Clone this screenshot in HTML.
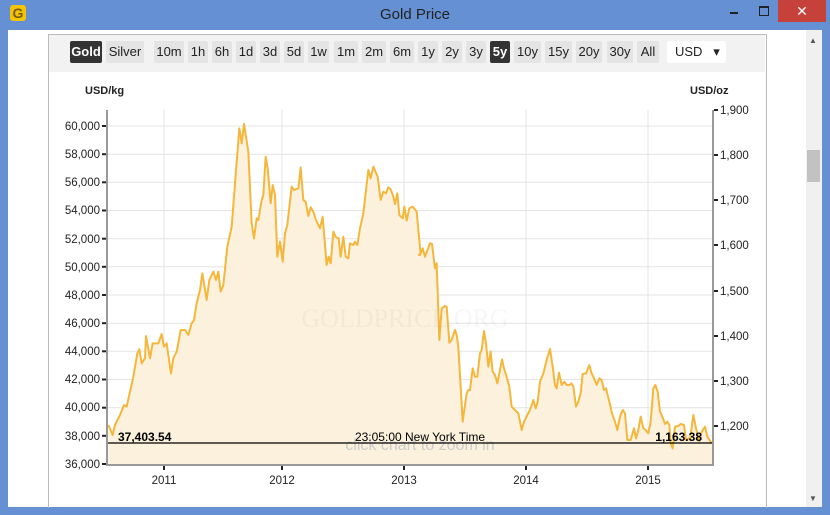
<!DOCTYPE html>
<html><head><meta charset="utf-8"><style>
body{margin:0;width:830px;height:515px;overflow:hidden;background:#6690d4;font-family:"Liberation Sans",sans-serif;position:relative}
.win{position:absolute;left:8px;top:30px;width:814px;height:477px;background:#fff}
.t{position:absolute;top:6px;left:0;width:830px;text-align:center;font-size:15px;color:#222}
.btn{position:absolute;top:41px;height:22px;line-height:22px;font-size:13px;text-align:center;background:#e4e4e4;color:#222;border-radius:2px}
.sel{background:#333;color:#fff;font-weight:bold}
</style></head><body>
<div class="t">Gold Price</div>
<div style="position:absolute;left:10px;top:5px;width:16px;height:16px;background:#f4c400;border-radius:3px;color:#7a5a00;font-weight:bold;font-size:14px;line-height:16px;text-align:center">G</div>
<div style="position:absolute;left:730px;top:12px;width:8px;height:2px;background:#222"></div>
<div style="position:absolute;left:759px;top:6px;width:8px;height:7px;border:1px solid #222;border-top-width:2px"></div>
<div style="position:absolute;left:778px;top:0;width:48px;height:22px;background:#c7413b;color:#fff;text-align:center;line-height:22px;font-size:14px">✕</div>
<div class="win"></div>
<div style="position:absolute;left:806px;top:30px;width:16px;height:477px;background:#f0f0f0"></div>
<div style="position:absolute;left:807px;top:150px;width:13px;height:32px;background:#c2c2c2"></div>
<div style="position:absolute;left:809px;top:36px;font-size:8px;color:#555">▲</div>
<div style="position:absolute;left:809px;top:494px;font-size:8px;color:#555">▼</div>
<div style="position:absolute;left:48px;top:34px;width:717px;height:473px;border-left:1px solid #bbb;border-right:1px solid #bbb;border-top:1px solid #bbb"></div>
<div style="position:absolute;left:49px;top:35px;width:716px;height:37px;background:#f2f2f2"></div>
<div class="btn sel" style="left:70px;width:32px">Gold</div>
<div class="btn" style="left:106px;width:38px">Silver</div>
<div class="btn" style="left:154px;width:30px">10m</div>
<div class="btn" style="left:188px;width:20px">1h</div>
<div class="btn" style="left:212px;width:20px">6h</div>
<div class="btn" style="left:236px;width:20px">1d</div>
<div class="btn" style="left:260px;width:20px">3d</div>
<div class="btn" style="left:284px;width:20px">5d</div>
<div class="btn" style="left:308px;width:21px">1w</div>
<div class="btn" style="left:334px;width:24px">1m</div>
<div class="btn" style="left:362px;width:24px">2m</div>
<div class="btn" style="left:390px;width:24px">6m</div>
<div class="btn" style="left:418px;width:20px">1y</div>
<div class="btn" style="left:442px;width:20px">2y</div>
<div class="btn" style="left:466px;width:20px">3y</div>
<div class="btn sel" style="left:490px;width:20px">5y</div>
<div class="btn" style="left:514px;width:27px">10y</div>
<div class="btn" style="left:545px;width:27px">15y</div>
<div class="btn" style="left:576px;width:26px">20y</div>
<div class="btn" style="left:607px;width:26px">30y</div>
<div class="btn" style="left:637px;width:22px">All</div>
<div class="btn" style="left:667px;width:59px;background:#fff;text-align:left;padding-left:8px;box-sizing:border-box">USD &nbsp;&nbsp;▾</div>
<svg style="position:absolute;left:0;top:0" width="830" height="515" font-family="Liberation Sans, sans-serif">
<text x="85" y="94" font-size="11" font-weight="bold" fill="#222">USD/kg</text>
<text x="690" y="94" font-size="11" font-weight="bold" fill="#222">USD/oz</text>
<g stroke="#e4e4e4" stroke-width="1">
<line x1="107" x2="713" y1="126" y2="126"/><line x1="107" x2="713" y1="154.2" y2="154.2"/><line x1="107" x2="713" y1="182.3" y2="182.3"/><line x1="107" x2="713" y1="210.5" y2="210.5"/><line x1="107" x2="713" y1="238.7" y2="238.7"/><line x1="107" x2="713" y1="266.8" y2="266.8"/><line x1="107" x2="713" y1="295" y2="295"/><line x1="107" x2="713" y1="323.2" y2="323.2"/><line x1="107" x2="713" y1="351.3" y2="351.3"/><line x1="107" x2="713" y1="379.5" y2="379.5"/><line x1="107" x2="713" y1="407.7" y2="407.7"/><line x1="107" x2="713" y1="435.8" y2="435.8"/>
<line x1="164" x2="164" y1="110" y2="464"/><line x1="282" x2="282" y1="110" y2="464"/><line x1="404" x2="404" y1="110" y2="464"/><line x1="526" x2="526" y1="110" y2="464"/><line x1="648" x2="648" y1="110" y2="464"/>
</g>
<g transform="translate(100,110) scale(0.33333)">
<polyline fill="#fbf1dc" stroke="none" points="25,1062 25,945 38,975 45,945 60,915 72,885 80,890 90,845 100,800 112,730 118,718 125,760 135,745 138,678 150,745 158,700 175,700 185,672 192,710 200,700 213,790 220,745 230,725 242,660 255,660 265,675 275,640 282,630 290,580 300,540 307,490 320,570 328,510 340,485 348,510 355,485 362,545 370,525 382,410 395,350 405,220 418,55 425,100 432,42 445,125 455,340 462,385 470,325 475,330 485,270 490,255 497,140 503,175 512,280 518,225 525,255 532,440 540,395 548,455 555,370 562,345 575,230 582,240 595,235 602,172 610,270 617,275 625,318 632,292 640,305 648,330 660,355 668,320 680,465 686,440 692,460 700,365 708,382 716,385 722,440 730,380 737,440 745,445 750,400 760,405 765,395 772,405 780,355 790,310 805,180 812,205 820,170 833,200 842,270 850,245 858,250 865,232 872,238 880,260 885,282 892,250 898,315 908,325 913,290 920,332 928,295 938,290 950,305 962,434 962,1062"/>
<polyline fill="none" stroke="#f5b73b" stroke-width="2" vector-effect="non-scaling-stroke" stroke-linejoin="round" points="25,945 38,975 45,945 60,915 72,885 80,890 90,845 100,800 112,730 118,718 125,760 135,745 138,678 150,745 158,700 175,700 185,672 192,710 200,700 213,790 220,745 230,725 242,660 255,660 265,675 275,640 282,630 290,580 300,540 307,490 320,570 328,510 340,485 348,510 355,485 362,545 370,525 382,410 395,350 405,220 418,55 425,100 432,42 445,125 455,340 462,385 470,325 475,330 485,270 490,255 497,140 503,175 512,280 518,225 525,255 532,440 540,395 548,455 555,370 562,345 575,230 582,240 595,235 602,172 610,270 617,275 625,318 632,292 640,305 648,330 660,355 668,320 680,465 686,440 692,460 700,365 708,382 716,385 722,440 730,380 737,440 745,445 750,400 760,405 765,395 772,405 780,355 790,310 805,180 812,205 820,170 833,200 842,270 850,245 858,250 865,232 872,238 880,260 885,282 892,250 898,315 908,325 913,290 920,332 928,295 938,290 950,305 962,434"/>
</g>
<g transform="translate(400,220) scale(0.33333)">
<polyline fill="#fbf1dc" stroke="none" points="58,732 58,100 60,105 68,85 75,110 90,70 96,72 105,145 110,130 118,360 125,265 135,258 140,260 148,368 155,360 165,330 170,345 175,380 188,605 200,520 205,510 210,510 218,445 225,470 232,470 240,400 245,390 252,333 258,370 265,440 272,395 278,455 285,465 292,490 300,450 306,418 312,445 320,470 328,500 335,560 345,570 355,580 365,630 372,605 382,585 392,565 400,540 407,565 413,545 420,485 430,460 440,420 450,387 458,440 465,495 470,505 477,458 485,495 493,485 500,495 508,495 514,490 520,500 528,560 535,545 542,520 548,462 558,460 568,435 575,460 582,475 590,495 598,475 605,480 612,510 618,505 628,545 636,580 645,605 652,630 660,590 668,570 675,580 682,660 692,660 702,625 708,655 715,630 722,590 730,625 737,630 745,640 752,605 760,505 766,495 773,515 780,575 787,590 795,612 802,605 808,615 812,670 818,685 825,620 835,618 842,612 852,615 858,660 865,655 870,660 880,585 888,625 898,665 905,635 915,620 922,650 935,670 939,670 939,732"/>
<polyline fill="none" stroke="#f5b73b" stroke-width="2" vector-effect="non-scaling-stroke" stroke-linejoin="round" points="54,104 60,105 68,85 75,110 90,70 96,72 105,145 110,130 118,360 125,265 135,258 140,260 148,368 155,360 165,330 170,345 175,380 188,605 200,520 205,510 210,510 218,445 225,470 232,470 240,400 245,390 252,333 258,370 265,440 272,395 278,455 285,465 292,490 300,450 306,418 312,445 320,470 328,500 335,560 345,570 355,580 365,630 372,605 382,585 392,565 400,540 407,565 413,545 420,485 430,460 440,420 450,387 458,440 465,495 470,505 477,458 485,495 493,485 500,495 508,495 514,490 520,500 528,560 535,545 542,520 548,462 558,460 568,435 575,460 582,475 590,495 598,475 605,480 612,510 618,505 628,545 636,580 645,605 652,630 660,590 668,570 675,580 682,660 692,660 702,625 708,655 715,630 722,590 730,625 737,630 745,640 752,605 760,505 766,495 773,515 780,575 787,590 795,612 802,605 808,615 812,670 818,685 825,620 835,618 842,612 852,615 858,660 865,655 870,660 880,585 888,625 898,665 905,635 915,620 922,650 935,670"/>
</g>
<text x="405" y="327" font-size="26" font-family="Liberation Serif, serif" fill="#000" fill-opacity="0.035" text-anchor="middle">GOLDPRICE.ORG</text>
<text x="420" y="450" font-size="16" fill="#ccc" text-anchor="middle">click chart to zoom in</text>
<line x1="107" x2="713" y1="443" y2="443" stroke="#000" stroke-width="1.2"/>
<text x="118" y="441" font-size="12" font-weight="bold" fill="#000">37,403.54</text>
<text x="420" y="441" font-size="12" fill="#000" text-anchor="middle">23:05:00 New York Time</text>
<text x="702" y="441" font-size="12" font-weight="bold" fill="#000" text-anchor="end">1,163.38</text>
<g stroke="#999" stroke-width="2"><line x1="107" x2="107" y1="110" y2="465"/><line x1="713" x2="713" y1="110" y2="465"/><line x1="106" x2="714" y1="465" y2="465"/></g>
<g stroke="#222" stroke-width="2">
<line x1="102" x2="106" y1="126" y2="126"/><line x1="102" x2="106" y1="154.2" y2="154.2"/><line x1="102" x2="106" y1="182.3" y2="182.3"/><line x1="102" x2="106" y1="210.5" y2="210.5"/><line x1="102" x2="106" y1="238.7" y2="238.7"/><line x1="102" x2="106" y1="266.8" y2="266.8"/><line x1="102" x2="106" y1="295" y2="295"/><line x1="102" x2="106" y1="323.2" y2="323.2"/><line x1="102" x2="106" y1="351.3" y2="351.3"/><line x1="102" x2="106" y1="379.5" y2="379.5"/><line x1="102" x2="106" y1="407.7" y2="407.7"/><line x1="102" x2="106" y1="435.8" y2="435.8"/><line x1="102" x2="106" y1="464" y2="464"/>
<line x1="714" x2="718" y1="110" y2="110"/><line x1="714" x2="718" y1="155" y2="155"/><line x1="714" x2="718" y1="200" y2="200"/><line x1="714" x2="718" y1="245" y2="245"/><line x1="714" x2="718" y1="291" y2="291"/><line x1="714" x2="718" y1="336" y2="336"/><line x1="714" x2="718" y1="381" y2="381"/><line x1="714" x2="718" y1="426" y2="426"/>
<line x1="164" x2="164" y1="466" y2="470"/><line x1="282" x2="282" y1="466" y2="470"/><line x1="404" x2="404" y1="466" y2="470"/><line x1="526" x2="526" y1="466" y2="470"/><line x1="648" x2="648" y1="466" y2="470"/>
</g>
<g font-size="11.5" fill="#222" text-anchor="end">
<text x="100" y="130">60,000</text><text x="100" y="158">58,000</text><text x="100" y="186">56,000</text><text x="100" y="214">54,000</text><text x="100" y="243">52,000</text><text x="100" y="271">50,000</text><text x="100" y="299">48,000</text><text x="100" y="327">46,000</text><text x="100" y="355">44,000</text><text x="100" y="383">42,000</text><text x="100" y="411">40,000</text><text x="100" y="440">38,000</text><text x="100" y="468">36,000</text>
</g>
<g font-size="11.5" fill="#222">
<text x="720" y="114">1,900</text><text x="720" y="159">1,800</text><text x="720" y="204">1,700</text><text x="720" y="249">1,600</text><text x="720" y="295">1,500</text><text x="720" y="340">1,400</text><text x="720" y="385">1,300</text><text x="720" y="430">1,200</text>
</g>
<g font-size="11.5" fill="#222" text-anchor="middle">
<text x="164" y="484">2011</text><text x="282" y="484">2012</text><text x="404" y="484">2013</text><text x="526" y="484">2014</text><text x="648" y="484">2015</text>
</g>
</svg>
</body></html>
